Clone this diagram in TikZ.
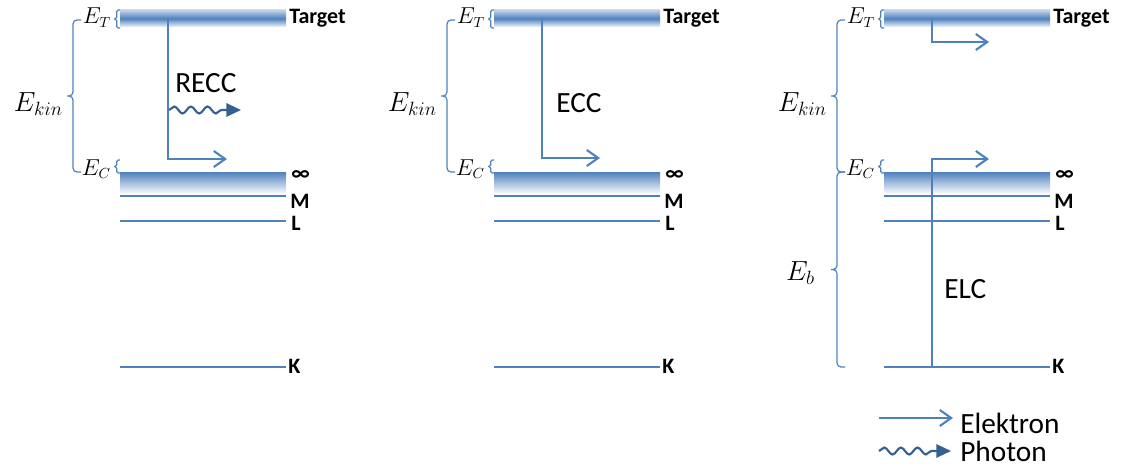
\documentclass[tikz,border=0pt]{standalone}
\usepackage{amsmath}
\usepackage{xcolor}
\usepackage{fontspec}
\setmainfont{Carlito}
\usepackage{tikz}
\usetikzlibrary{
  arrows,
  arrows.meta,
  decorations.pathmorphing,
  positioning,
  calc
}
\definecolor{lineblue}{RGB}{79,129,189}
\definecolor{photblue}{RGB}{55,96,146}

\begin{document}
\begin{tikzpicture}[x=0.75pt,y=-0.75pt,
    lvl/.style={draw=lineblue, line width=1.1pt},
    tband/.style={minimum width=124.5pt, minimum height=12.75pt, inner sep=0pt,
      top color=lineblue!35, bottom color=lineblue!8, middle color=lineblue},
    iband/.style={minimum width=124.5pt, minimum height=15.75pt, inner sep=0pt,
      top color=lineblue, bottom color=lineblue!5},
    lbl/.style={font=\fontsize{16.5}{19}\selectfont\bfseries, inner sep=0pt, anchor=base west},
    proc/.style={font=\fontsize{22}{24}\selectfont, inner sep=0pt, anchor=base west},
    enode/.style={font=\fontsize{16}{18}\selectfont, inner sep=0pt, anchor=base east},
    ekin/.style={font=\fontsize{21}{23}\selectfont, inner sep=0pt, anchor=base east},
    elec/.style={draw=lineblue, line width=2pt,
      -{Straight Barb[length=8.5pt,width=12pt,line width=1.6pt]}},
    phot/.style={draw=photblue, line width=1.6pt, decorate,
      decoration={snake, amplitude=2.6pt, segment length=12.5pt, post length=9pt},
      -{Triangle[length=11pt,width=10pt]}},
    bigbrc/.style={draw=lineblue, line width=0.9pt, rounded corners=3pt, to path={
      let \p1=(\tikztostart), \p2=(\tikztotarget) in
      (\p1) -- (\x1-6pt,\y1) -- (\x1-6pt,{0.5*\y1+0.5*\y2}) -- (\x1-10.5pt,{0.5*\y1+0.5*\y2})
      (\x1-10.5pt,{0.5*\y1+0.5*\y2}) -- (\x1-6pt,{0.5*\y1+0.5*\y2}) -- (\x1-6pt,\y2) -- (\p2)}},
    smallbrc/.style={draw=lineblue, line width=0.9pt, rounded corners=1.2pt, to path={
      let \p1=(\tikztostart), \p2=(\tikztotarget) in
      (\p1) -- (\x1-2.5pt,\y1) -- (\x1-2.5pt,{0.5*\y1+0.5*\y2}) -- (\x1-4.5pt,{0.5*\y1+0.5*\y2})
      (\x1-4.5pt,{0.5*\y1+0.5*\y2}) -- (\x1-2.5pt,{0.5*\y1+0.5*\y2}) -- (\x1-2.5pt,\y2) -- (\p2)}}]
    \useasboundingbox (0,0) rectangle (1123,467);

    % RECC
    \node[tband] (tgt1) at (203,18.5) {};
    \node[lbl] (tl1) at (289,24) {Target};
    \node[iband] (inf1) at (203,182.5) {};
    \node[lbl] (il1) at (291,180) {∞};
    \draw[lvl] (120,196) -- (286,196);
    \node[lbl] (ml1) at (290,208) {M};
    \draw[lvl] (120,221) -- (286,221);
    \node[lbl] (ll1) at (291,230) {L};
    \draw[lvl] (120,367) -- (286,367);
    \node[lbl] (kl1) at (288,373) {K};
    \coordinate (et1t) at (120,10);
    \coordinate (et1b) at (120,28);
    \draw[smallbrc] (et1t) to (et1b);
    \node[enode] (et1) at (111,24) {$E_T$};
    \coordinate (ec1t) at (120,160);
    \coordinate (ec1b) at (120,173);
    \draw[smallbrc] (ec1t) to (ec1b);
    \node[enode] (ec1) at (111,175) {$E_C$};
    \coordinate (bk1t) at (81,20);
    \coordinate (bk1b) at (81,172);
    \draw[bigbrc] (bk1t) to (bk1b);
    \node[ekin] (ek1) at (63,111) {$E_{kin}$};
    \coordinate (a1) at (168,159);
    \coordinate (e1) at (227,159);
    \draw[elec] (tgt1.center -| a1) -- (a1) -- (e1);
    \coordinate (p1) at (169,110);
    \coordinate (q1) at (241,110);
    \draw[phot] (p1) -- (q1);
    \node[proc] (recc) at (175,93) {RECC};

    % ECC
    \node[tband] (tgt2) at (577,18.5) {};
    \node[lbl] (tl2) at (663,24) {Target};
    \node[iband] (inf2) at (577,182.5) {};
    \node[lbl] (il2) at (665,180) {∞};
    \draw[lvl] (494,196) -- (660,196);
    \node[lbl] (ml2) at (664,208) {M};
    \draw[lvl] (494,221) -- (660,221);
    \node[lbl] (ll2) at (665,230) {L};
    \draw[lvl] (494,367) -- (660,367);
    \node[lbl] (kl2) at (662,373) {K};
    \coordinate (et2t) at (494,10);
    \coordinate (et2b) at (494,28);
    \draw[smallbrc] (et2t) to (et2b);
    \node[enode] (et2) at (485,24) {$E_T$};
    \coordinate (ec2t) at (494,160);
    \coordinate (ec2b) at (494,173);
    \draw[smallbrc] (ec2t) to (ec2b);
    \node[enode] (ec2) at (485,175) {$E_C$};
    \coordinate (bk2t) at (455,20);
    \coordinate (bk2b) at (455,172);
    \draw[bigbrc] (bk2t) to (bk2b);
    \node[ekin] (ek2) at (437,111) {$E_{kin}$};
    \coordinate (a2) at (542,158);
    \coordinate (e2) at (600,158);
    \draw[elec] (tgt2.center -| a2) -- (a2) -- (e2);
    \node[proc] (ecc) at (556,112) {ECC};

    % ELC
    \node[tband] (tgt3) at (967,18.5) {};
    \node[lbl] (tl3) at (1053,24) {Target};
    \node[iband] (inf3) at (967,182.5) {};
    \node[lbl] (il3) at (1055,180) {∞};
    \draw[lvl] (884,196) -- (1050,196);
    \node[lbl] (ml3) at (1054,208) {M};
    \draw[lvl] (884,221) -- (1050,221);
    \node[lbl] (ll3) at (1055,230) {L};
    \draw[lvl] (884,367) -- (1050,367);
    \node[lbl] (kl3) at (1052,373) {K};
    \coordinate (et3t) at (884,10);
    \coordinate (et3b) at (884,28);
    \draw[smallbrc] (et3t) to (et3b);
    \node[enode] (et3) at (875,24) {$E_T$};
    \coordinate (ec3t) at (884,160);
    \coordinate (ec3b) at (884,173);
    \draw[smallbrc] (ec3t) to (ec3b);
    \node[enode] (ec3) at (875,175) {$E_C$};
    \coordinate (bk3t) at (845,20);
    \coordinate (bk3m) at (845,172);
    \coordinate (bk3b) at (845,367);
    \draw[bigbrc] (bk3t) to (bk3m);
    \draw[bigbrc] (bk3m) to (bk3b);
    \node[ekin] (ek3) at (827,111) {$E_{kin}$};
    \node[ekin] (eb3) at (815,280) {$E_b$};
    \coordinate (b3) at (932,42);
    \coordinate (f3) at (989,42);
    \draw[elec] (tgt3.center -| b3) -- (b3) -- (f3);
    \coordinate (k3) at (932,367);
    \coordinate (c3) at (932,159);
    \coordinate (e3) at (989,159);
    \draw[elec] (k3) -- (c3) -- (e3);
    \node[proc] (elc) at (944,298) {ELC};

    % legend
    \coordinate (l1) at (879,418);
    \coordinate (l2) at (953,418);
    \draw[elec] (l1) -- (l2);
    \node[proc] (lel) at (960,433) {Elektron};
    \coordinate (l3) at (879,451);
    \coordinate (l4) at (951,451);
    \draw[phot] (l3) -- (l4);
    \node[proc] (lph) at (960,461) {Photon};
\end{tikzpicture}
\end{document}
